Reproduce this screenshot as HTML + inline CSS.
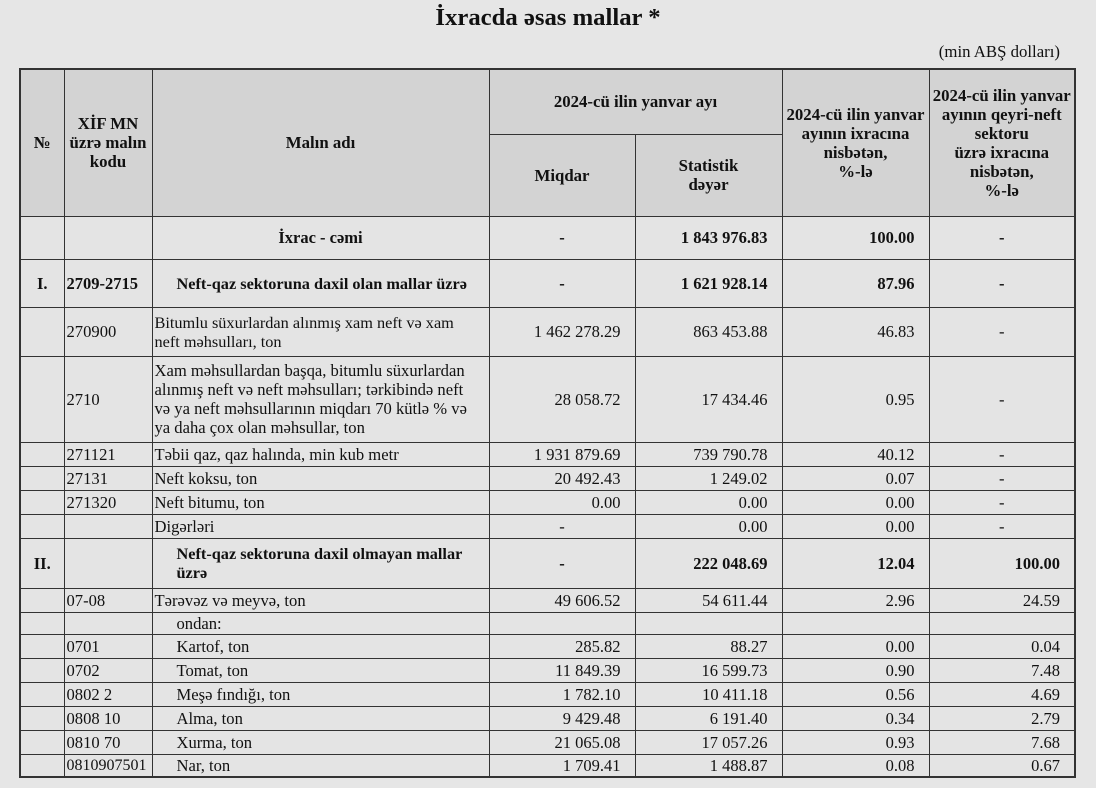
<!DOCTYPE html>
<html><head><meta charset="utf-8"><style>
body{margin:0;background:#e6e6e6;width:1096px;height:788px;overflow:hidden;font-family:"Liberation Serif",serif;color:#111}
.t{position:absolute;left:0;top:4px;width:1096px;text-align:center;font-weight:bold;font-size:24.7px}
.u{position:absolute;right:36px;top:42px;font-size:16.8px}
table{position:absolute;left:19px;top:68px;border-collapse:collapse;table-layout:fixed;width:1056px;border:2px solid #333;font-size:16.6px}
td{border:1px solid #333;padding:0 2px;background:#e4e4e4;overflow:hidden;line-height:19px;white-space:nowrap}
tr.h td{background:#d3d3d3;font-weight:bold;text-align:center;font-size:16.8px}
.c{text-align:center;font-size:16.5px}.r{text-align:right;padding-right:14px;font-size:16.5px}.b{font-weight:bold}.i{padding-left:24px}
</style></head><body>
<div class="t">İxracda əsas mallar *</div>
<div class="u">(min ABŞ dolları)</div>
<table>
<colgroup><col style="width:44px"><col style="width:88px"><col style="width:337px"><col style="width:146px"><col style="width:147px"><col style="width:147px"><col style="width:146px"></colgroup>
<tr class="h" style="height:65px"><td rowspan="2">№</td><td rowspan="2">XİF MN<br>üzrə malın<br>kodu</td><td rowspan="2">Malın adı</td><td colspan="2">2024-cü ilin yanvar ayı</td><td rowspan="2">2024-cü ilin yanvar<br>ayının ixracına<br>nisbətən,<br>%-lə</td><td rowspan="2">2024-cü ilin yanvar<br>ayının qeyri-neft<br>sektoru<br>üzrə ixracına<br>nisbətən,<br>%-lə</td></tr>
<tr class="h" style="height:82px"><td>Miqdar</td><td>Statistik<br>dəyər</td></tr>
<tr style="height:43px" class="b"><td></td><td></td><td class="c">İxrac - cəmi</td><td class="c">-</td><td class="r">1 843 976.83</td><td class="r">100.00</td><td class="c">-</td></tr>
<tr style="height:48px" class="b"><td class="c">I.</td><td style="font-size:16.5px">2709-2715</td><td class="i" style="font-size:16.3px">Neft-qaz sektoruna daxil olan mallar üzrə</td><td class="c">-</td><td class="r">1 621 928.14</td><td class="r">87.96</td><td class="c">-</td></tr>
<tr style="height:49px"><td></td><td>270900</td><td style="font-size:16.3px">Bitumlu süxurlardan alınmış xam neft və xam<br>neft məhsulları, ton</td><td class="r">1 462 278.29</td><td class="r">863 453.88</td><td class="r">46.83</td><td class="c">-</td></tr>
<tr style="height:86px"><td></td><td>2710</td><td>Xam məhsullardan başqa, bitumlu süxurlardan<br>alınmış neft və neft məhsulları; tərkibində neft<br>və ya neft məhsullarının miqdarı 70 kütlə % və<br>ya daha çox olan məhsullar, ton</td><td class="r">28 058.72</td><td class="r">17 434.46</td><td class="r">0.95</td><td class="c">-</td></tr>
<tr style="height:24px"><td></td><td>271121</td><td>Təbii qaz, qaz halında, min kub metr</td><td class="r">1 931 879.69</td><td class="r">739 790.78</td><td class="r">40.12</td><td class="c">-</td></tr>
<tr style="height:24px"><td></td><td>27131</td><td>Neft koksu, ton</td><td class="r">20 492.43</td><td class="r">1 249.02</td><td class="r">0.07</td><td class="c">-</td></tr>
<tr style="height:24px"><td></td><td>271320</td><td>Neft bitumu, ton</td><td class="r">0.00</td><td class="r">0.00</td><td class="r">0.00</td><td class="c">-</td></tr>
<tr style="height:24px"><td></td><td></td><td>Digərləri</td><td class="c">-</td><td class="r">0.00</td><td class="r">0.00</td><td class="c">-</td></tr>
<tr style="height:50px" class="b"><td class="c">II.</td><td></td><td class="i" style="font-size:16.3px">Neft-qaz sektoruna daxil olmayan mallar<br>üzrə</td><td class="c">-</td><td class="r">222 048.69</td><td class="r">12.04</td><td class="r">100.00</td></tr>
<tr style="height:24px"><td></td><td>07-08</td><td>Tərəvəz və meyvə, ton</td><td class="r">49 606.52</td><td class="r">54 611.44</td><td class="r">2.96</td><td class="r">24.59</td></tr>
<tr style="height:22px"><td></td><td></td><td class="i">ondan:</td><td></td><td></td><td></td><td></td></tr>
<tr style="height:24px"><td></td><td>0701</td><td class="i">Kartof, ton</td><td class="r">285.82</td><td class="r">88.27</td><td class="r">0.00</td><td class="r">0.04</td></tr>
<tr style="height:24px"><td></td><td>0702</td><td class="i">Tomat, ton</td><td class="r">11 849.39</td><td class="r">16 599.73</td><td class="r">0.90</td><td class="r">7.48</td></tr>
<tr style="height:24px"><td></td><td>0802 2</td><td class="i">Meşə fındığı, ton</td><td class="r">1 782.10</td><td class="r">10 411.18</td><td class="r">0.56</td><td class="r">4.69</td></tr>
<tr style="height:24px"><td></td><td>0808 10</td><td class="i">Alma, ton</td><td class="r">9 429.48</td><td class="r">6 191.40</td><td class="r">0.34</td><td class="r">2.79</td></tr>
<tr style="height:24px"><td></td><td>0810 70</td><td class="i">Xurma, ton</td><td class="r">21 065.08</td><td class="r">17 057.26</td><td class="r">0.93</td><td class="r">7.68</td></tr>
<tr style="height:23px"><td></td><td style="font-size:16px">0810907501</td><td class="i">Nar, ton</td><td class="r">1 709.41</td><td class="r">1 488.87</td><td class="r">0.08</td><td class="r">0.67</td></tr>
</table>
</body></html>
